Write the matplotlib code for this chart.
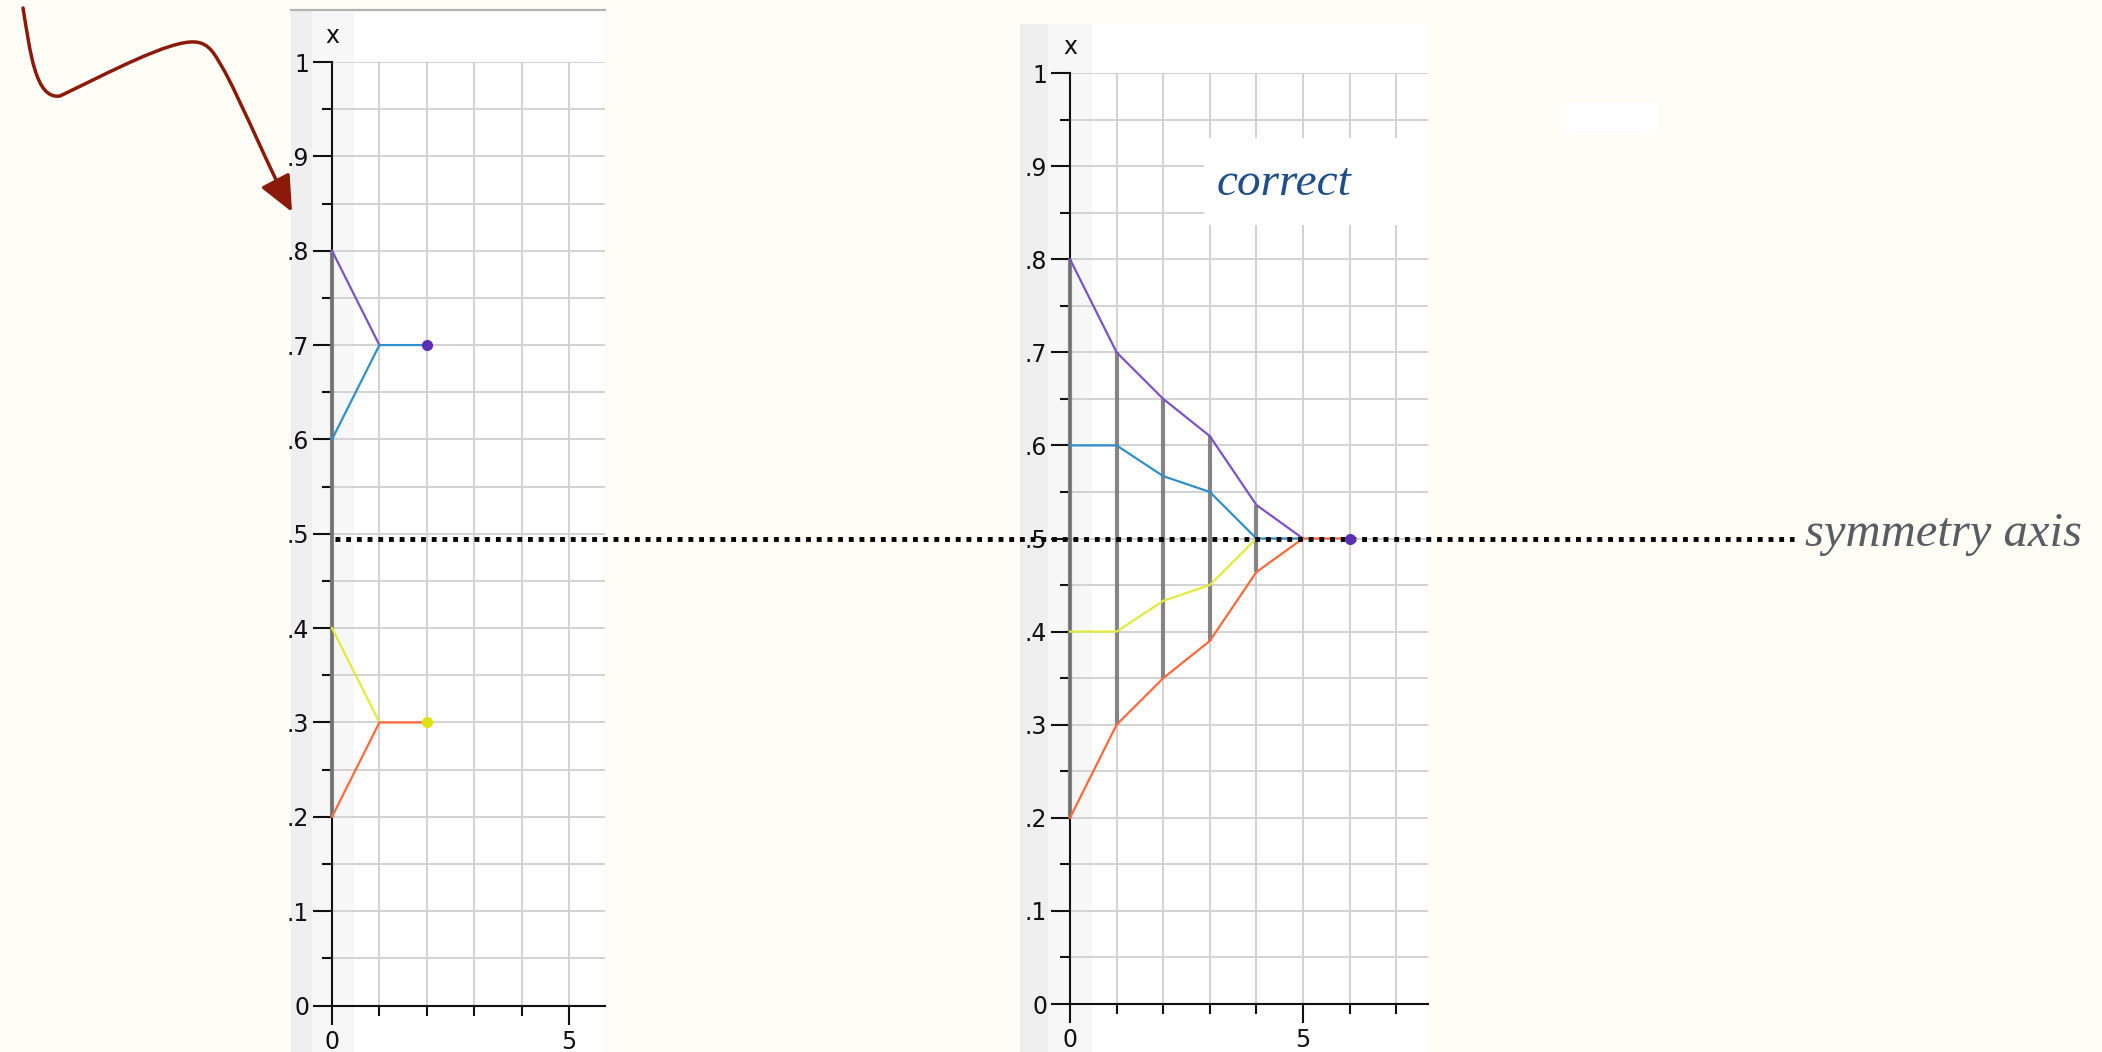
import numpy as np
import matplotlib
matplotlib.use("Agg")
import matplotlib.pyplot as plt
import matplotlib.transforms as mtransforms
from matplotlib.patches import Rectangle, FancyArrowPatch
from matplotlib.path import Path

W, H = 2102, 1052

# left panel: pairs meet after one step but the two halves stay apart
purple_l = [0.8, 0.7]
blue_l = [0.6, 0.7, 0.7]
yellow_l = [0.4, 0.3]
orange_l = [0.2, 0.3, 0.3]
ends_l = [(2, 0.7), (2, 0.3)]
bars_l = [0]

# right panel: everything collapses onto 0.5
purple_r = [0.8, 0.7, 0.65, 0.61, 0.536, 0.5]
blue_r = [0.6, 0.6, 0.567, 0.55, 0.5, 0.5]
yellow_r = [0.4, 0.4, 0.433, 0.45, 0.5]
orange_r = [0.2, 0.3, 0.35, 0.39, 0.464, 0.5, 0.5]
ends_r = [(6, 0.5)]
bars_r = [0, 1, 2, 3, 4]

y_ticks = np.round(np.arange(0, 1.01, 0.1), 1)
y_labels = ["0" if v == 0 else "1" if v == 1 else f"{v:.1f}"[1:] for v in y_ticks]

BG = "#fefef6"
PURPLE = "#7c52c6"
BLUE = "#2f8fca"
YELLOW = "#e2ea3c"
ORANGE = "#ff6a3c"
GRID = "#d2d2d2"

fig = plt.figure(figsize=(W / 100, H / 100), dpi=100, facecolor=BG)

# pixel-space canvas for panel backgrounds
bg = fig.add_axes([0, 0, 1, 1], zorder=0)
bg.set_xlim(0, W)
bg.set_ylim(H, 0)
bg.axis("off")


def panel(x_left, x_dark, x_axis, x_right, y_top, y1, y0, xmax, top_line=False):
    bg.add_patch(Rectangle((x_left, y_top), x_right - x_left, H - y_top, color="white", lw=0))
    bg.add_patch(Rectangle((x_left, y_top), x_axis + 22 - x_left, H - y_top, color="#f7f7f7", lw=0))
    bg.add_patch(Rectangle((x_left, y_top), x_dark - x_left, H - y_top, color="#efefef", lw=0))
    if top_line:
        bg.plot([x_left, x_right], [y_top, y_top], color="#b4b4b4", lw=1.6)

    ax = fig.add_axes([x_axis / W, (H - y0) / H, (x_right - x_axis) / W, (y0 - y1) / H], zorder=1)
    ax.patch.set_visible(False)
    ax.set_xlim(0, xmax)
    ax.set_ylim(0, 1)
    for s in ["top", "right"]:
        ax.spines[s].set_visible(False)
    for s in ["left", "bottom"]:
        ax.spines[s].set_linewidth(1.5)
        ax.spines[s].set_color("#111111")

    ax.set_yticks(y_ticks)
    ax.set_yticklabels(y_labels)
    ax.set_yticks(np.arange(0.05, 1.0, 0.1), minor=True)
    ax.set_xticks([0, 5])
    ax.set_xticklabels(["0", "5"])
    ax.set_xticks([i for i in range(1, int(xmax) + 1) if i != 5], minor=True)
    ax.tick_params(which="major", length=13.5, width=1.5, labelsize=17, colors="#111111")
    ax.tick_params(which="minor", length=7, width=1.5, colors="#111111")
    ax.tick_params(axis="y", which="major", pad=3)
    ax.tick_params(axis="x", which="major", pad=4)
    ax.grid(which="both", color=GRID, lw=1.4, zorder=0)
    ax.set_axisbelow(True)
    ax.annotate("x", xy=(0, 1), xycoords="axes fraction", xytext=(0, 19),
                textcoords="offset points", ha="center", va="center", fontsize=17, color="#111111")
    return ax


def draw(ax, series, colors, ends, end_colors, bars):
    for b in bars:
        vals = [s[b] for s in series if len(s) > b]
        ax.plot([b, b], [min(vals), max(vals)], color="#7a7a7a", lw=3, alpha=0.9,
                solid_capstyle="butt", zorder=2.6, clip_on=False)
    for s, c in zip(series, colors):
        ax.plot(range(len(s)), s, color=c, lw=1.6, zorder=3, clip_on=False)
    for (x, y), c in zip(ends, end_colors):
        ax.plot(x, y, "o", ms=7, color=c, mec=c, zorder=5, clip_on=False)


ax1 = panel(291, 312, 332, 605, 10, 62, 1005.5, (605 - 332) / 47.4, top_line=True)
ax2 = panel(1020, 1048, 1070, 1428, 24, 73, 1004, (1428 - 1070) / 46.6)

# later series drawn first so the lower colour wins where lines coincide
draw(ax1, [purple_l, yellow_l, blue_l, orange_l], [PURPLE, YELLOW, BLUE, ORANGE],
     ends_l, ["#5b2fb4", "#dfe312"], bars_l)
draw(ax2, [purple_r, yellow_r, blue_r, orange_r], [PURPLE, YELLOW, BLUE, ORANGE],
     ends_r, ["#5b2fb4"], bars_r)

# dotted symmetry line across both panels, at y = 0.5
trans = mtransforms.blended_transform_factory(fig.transFigure, ax2.transData)
ax2.plot([335 / W, 1794 / W], [0.5, 0.5], transform=trans, color="black", lw=3.5,
         ls=(0, (1.0, 1.2)), dash_capstyle="butt", clip_on=False, zorder=4)

# overlay in pixel space for notes
ov = fig.add_axes([0, 0, 1, 1], zorder=5)
ov.set_xlim(0, W)
ov.set_ylim(H, 0)
ov.axis("off")
ov.patch.set_visible(False)

ov.add_patch(Rectangle((1204, 138), 224, 87, color="white", lw=0))
ov.add_patch(Rectangle((1565, 103), 92, 30, color="white", lw=0))
ov.text(1217, 195, "correct", fontsize=34, style="italic", family="Liberation Serif",
        color="#1f4f8a", ha="left", va="baseline")
ov.text(1805, 546, "symmetry axis", fontsize=35, style="italic", family="Liberation Serif",
        color="#585c63", ha="left", va="baseline")

verts = [(23, 8),
         (30, 50), (35, 100), (60, 96),
         (110, 72), (170, 40), (195, 42),
         (210, 43), (215, 55), (225, 72),
         (245, 110), (270, 170), (292, 212)]
codes = [Path.MOVETO] + [Path.CURVE4] * 12
arrow = FancyArrowPatch(path=Path(verts, codes), arrowstyle="-|>,head_length=1.0,head_width=0.45",
                        mutation_scale=22, color="#8b1a0a", lw=2.5)
ov.add_patch(arrow)

fig.savefig("out.png", dpi=100, facecolor=BG)
